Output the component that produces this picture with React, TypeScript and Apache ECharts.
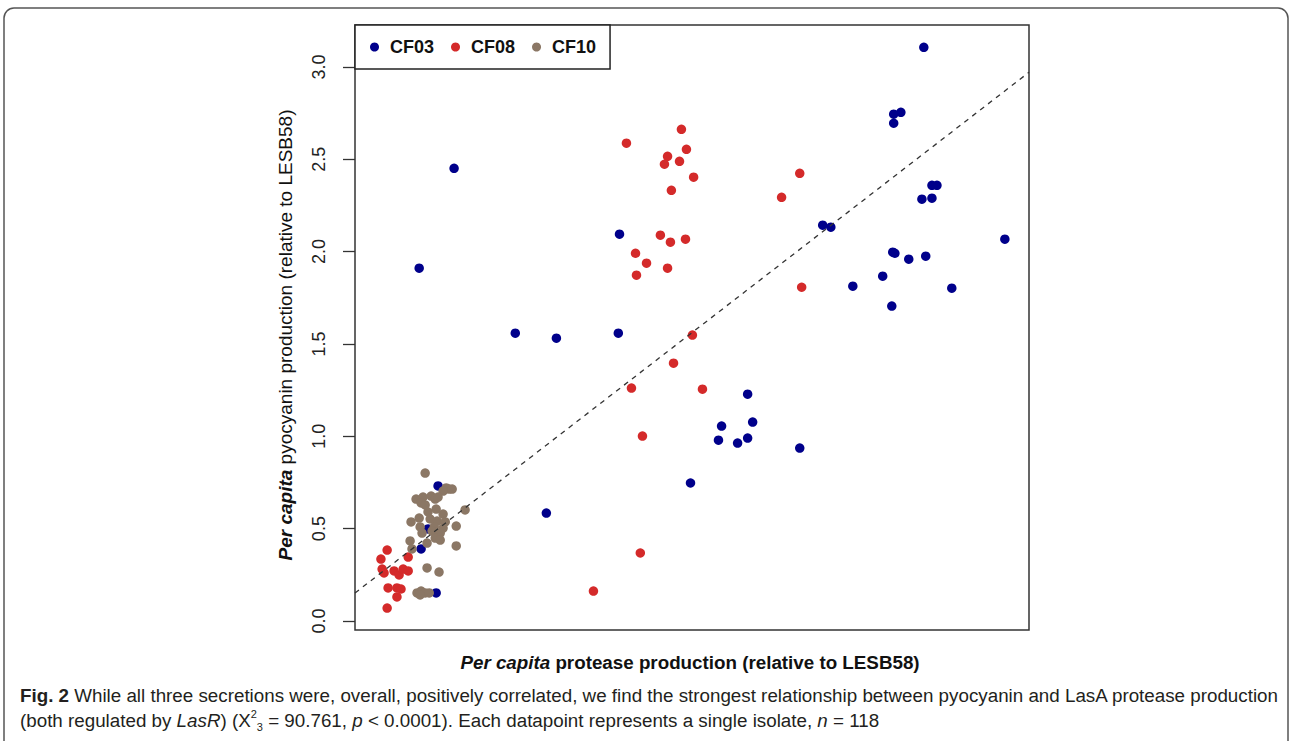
import React, { useEffect, useRef } from "react";
import * as echarts from "echarts";

// Axis ranges (x axis unlabeled; 1:1 reference line spans the x range)
const X_MIN = 0.1515;
const X_MAX = 2.971;
const Y_MIN = -0.049;
const Y_MAX = 3.227;
const yTickValues = [0, 0.5, 1.0, 1.5, 2.0, 2.5, 3.0];

const seriesNames = ["CF03", "CF08", "CF10"];
const seriesColors = ["#00008B", "#D42A2A", "#8B7765"];

// [protease, pyocyanin]
const cf03: number[][] = [
  [2.531, 3.106], [2.405, 2.744], [2.435, 2.754], [2.405, 2.695],
  [2.565, 2.359], [2.586, 2.359], [2.523, 2.284], [2.565, 2.289],
  [2.870, 2.067], [2.401, 1.997], [2.410, 1.991], [2.468, 1.959],
  [2.539, 1.975], [2.359, 1.867], [2.234, 1.813], [2.648, 1.802],
  [2.397, 1.705], [2.108, 2.143], [2.142, 2.132], [0.420, 1.910],
  [0.566, 2.451], [1.258, 2.094], [0.822, 1.558], [0.994, 1.531],
  [1.253, 1.558], [1.794, 1.228], [1.685, 1.055], [1.815, 1.077],
  [1.672, 0.979], [1.752, 0.963], [1.794, 0.990], [2.012, 0.936],
  [1.555, 0.747], [0.952, 0.584], [0.499, 0.731], [0.457, 0.498],
  [0.428, 0.390], [0.491, 0.152],
];

const cf08: number[][] = [
  [1.517, 2.662], [1.287, 2.587], [1.538, 2.554], [1.459, 2.516],
  [1.446, 2.473], [1.509, 2.489], [1.568, 2.403], [1.475, 2.332],
  [1.429, 2.089], [1.471, 2.051], [1.534, 2.067], [1.325, 1.991],
  [1.371, 1.937], [1.459, 1.910], [1.329, 1.872], [2.012, 2.424],
  [1.936, 2.294], [2.020, 1.807], [1.563, 1.548], [1.484, 1.396],
  [1.308, 1.261], [1.605, 1.255], [1.354, 1.001], [1.345, 0.368],
  [1.149, 0.162], [0.286, 0.384], [0.260, 0.335], [0.374, 0.346],
  [0.265, 0.281], [0.273, 0.260], [0.315, 0.271], [0.336, 0.249],
  [0.353, 0.281], [0.374, 0.271], [0.290, 0.179], [0.327, 0.179],
  [0.344, 0.173], [0.327, 0.130], [0.286, 0.070],
];

const cf10: number[][] = [
  [0.445, 0.801], [0.533, 0.720], [0.545, 0.714], [0.520, 0.703],
  [0.407, 0.660], [0.436, 0.671], [0.470, 0.676], [0.487, 0.660],
  [0.499, 0.671], [0.428, 0.639], [0.491, 0.606], [0.612, 0.601],
  [0.457, 0.590], [0.520, 0.579], [0.420, 0.557], [0.466, 0.552],
  [0.495, 0.541], [0.529, 0.536], [0.386, 0.536], [0.424, 0.509],
  [0.483, 0.509], [0.520, 0.503], [0.575, 0.514], [0.432, 0.476],
  [0.474, 0.487], [0.508, 0.476], [0.487, 0.449], [0.382, 0.433],
  [0.453, 0.422], [0.575, 0.406], [0.390, 0.390], [0.453, 0.287],
  [0.503, 0.265], [0.411, 0.152], [0.428, 0.162], [0.445, 0.152],
  [0.424, 0.141], [0.462, 0.152], [0.445, 0.628], [0.558, 0.714],
  [0.508, 0.438],
];

const seriesData = [cf03, cf08, cf10];

const SANS = "'Liberation Sans', Arial, Helvetica, sans-serif";
const CAP_SIZE = 18.8;

const yTitle = "{bi|Per capita} pyocyanin production (relative to LESB58)";
const xTitle = "{bi|Per capita} protease production (relative to LESB58)";
const caption1 =
  "{b|Fig. 2} While all three secretions were, overall, positively correlated, we find the strongest relationship between pyocyanin and LasA protease production";
const caption2 =
  "(both regulated by {i|LasR}) (X{sup|2}{sub|3} = 90.761, {i|p} < 0.0001). Each datapoint represents a single isolate, {i|n} = 118";

export default function App() {
  const ref = useRef<HTMLDivElement>(null);

  useEffect(() => {
    if (!ref.current) return;
    const chart = echarts.init(ref.current, null, { renderer: "svg" });

    const scatterSeries = seriesNames.map((name, i) => ({
      name,
      type: "scatter",
      data: seriesData[i],
      symbol: "circle",
      symbolSize: 9.5,
      itemStyle: { color: seriesColors[i], opacity: 1 },
      z: 2 + i,
    }));

    const option: any = {
      animation: false,
      backgroundColor: "#ffffff",
      grid: {
        left: 355,
        top: 25,
        width: 674,
        height: 605,
        show: true,
        borderColor: "#333333",
        borderWidth: 1.5,
        backgroundColor: "transparent",
      },
      legend: {
        left: 355,
        top: 25,
        orient: "horizontal",
        data: seriesNames.map((n) => ({ name: n, icon: "circle" })),
        itemWidth: 9,
        itemHeight: 9,
        itemGap: 17,
        padding: [13, 14, 13, 15],
        borderColor: "#222222",
        borderWidth: 1.5,
        backgroundColor: "#ffffff",
        textStyle: {
          fontFamily: SANS,
          fontSize: 18,
          fontWeight: "bold",
          color: "#111111",
          padding: [0, 0, 0, 6],
        },
        selectedMode: false,
        z: 10,
      },
      xAxis: {
        type: "value",
        min: X_MIN,
        max: X_MAX,
        axisLine: { show: false },
        axisTick: { show: false },
        axisLabel: { show: false },
        splitLine: { show: false },
      },
      yAxis: {
        type: "value",
        min: Y_MIN,
        max: Y_MAX,
        axisLine: { show: false },
        splitLine: { show: false },
        axisTick: {
          show: true,
          length: 12,
          customValues: yTickValues,
          lineStyle: { color: "#333333", width: 1.3 },
        },
        axisLabel: {
          show: true,
          customValues: yTickValues,
          rotate: 90,
          margin: 27,
          fontFamily: SANS,
          fontSize: 18,
          color: "#222222",
          formatter: (v: number) => v.toFixed(1),
        },
      },
      series: [
        ...scatterSeries,
        {
          name: "1:1",
          type: "line",
          data: [
            [X_MIN, X_MIN],
            [X_MAX, X_MAX],
          ],
          symbol: "none",
          silent: true,
          lineStyle: { color: "#333333", width: 1.3, type: [5, 5] },
          z: 6,
        },
      ],
      graphic: [
        {
          type: "rect",
          shape: { x: 4, y: 8, width: 1284, height: 760, r: 10 },
          style: { fill: "none", stroke: "#555555", lineWidth: 1.5 },
          silent: true,
          z: 0,
        },
        {
          type: "text",
          x: 285,
          y: 335,
          rotation: Math.PI / 2,
          style: {
            text: yTitle,
            fontFamily: SANS,
            fontSize: 19,
            fill: "#111111",
            align: "center",
            verticalAlign: "middle",
            rich: {
              bi: {
                fontFamily: SANS,
                fontSize: 19,
                fontStyle: "italic",
                fontWeight: "bold",
                fill: "#111111",
              },
            },
          },
        },
        {
          type: "text",
          x: 690,
          y: 662,
          style: {
            text: xTitle,
            fontFamily: SANS,
            fontSize: 18.8,
            fontWeight: "bold",
            fill: "#111111",
            align: "center",
            verticalAlign: "middle",
            rich: {
              bi: {
                fontFamily: SANS,
                fontSize: 18.8,
                fontStyle: "italic",
                fontWeight: "bold",
                fill: "#111111",
              },
            },
          },
        },
        {
          type: "text",
          x: 20,
          y: 695,
          style: {
            text: caption1,
            fontFamily: SANS,
            fontSize: CAP_SIZE,
            fill: "#231F20",
            align: "left",
            verticalAlign: "middle",
            rich: {
              b: { fontFamily: SANS, fontSize: CAP_SIZE, fontWeight: "bold", fill: "#231F20" },
            },
          },
        },
        {
          type: "text",
          x: 20,
          y: 720,
          style: {
            text: caption2,
            fontFamily: SANS,
            fontSize: CAP_SIZE,
            fill: "#231F20",
            align: "left",
            verticalAlign: "middle",
            rich: {
              i: { fontFamily: SANS, fontSize: CAP_SIZE, fontStyle: "italic", fill: "#231F20" },
              sup: { fontFamily: SANS, fontSize: 11, fill: "#231F20", verticalAlign: "top", lineHeight: 24 },
              sub: { fontFamily: SANS, fontSize: 11, fill: "#231F20", verticalAlign: "bottom", lineHeight: 24 },
            },
          },
        },
      ],
    };

    chart.setOption(option);
    return () => chart.dispose();
  }, []);

  return (
    <div
      ref={ref}
      style={{ position: "fixed", left: 0, top: 0, width: 1295, height: 741, background: "#fff" }}
    />
  );
}
